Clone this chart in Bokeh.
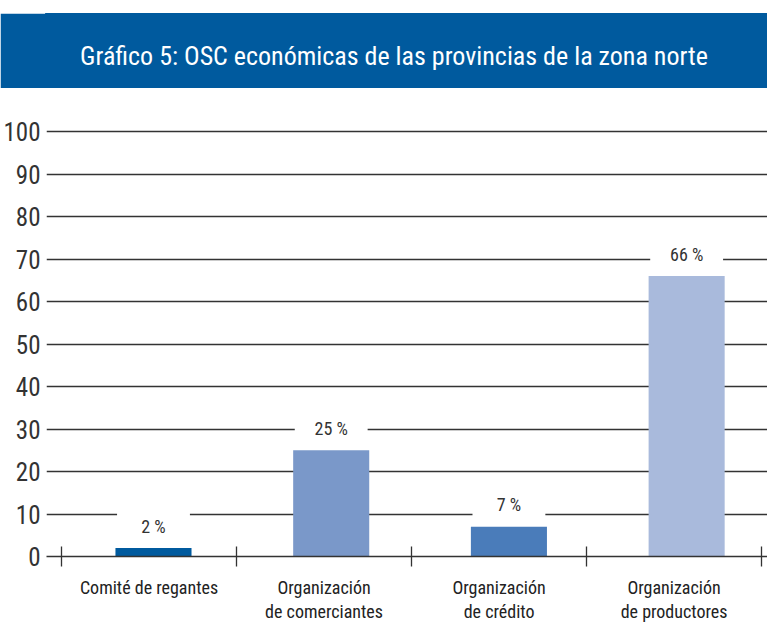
from bokeh.plotting import figure
from bokeh.models import Range1d, FixedTicker, Label, Spacer
from bokeh.layouts import column
from bokeh.embed import file_html
from bokeh.resources import INLINE
from bokeh.core.properties import value

# ---- data ----
title_text = "Gráfico 5: OSC económicas de las provincias de la zona norte"
categories = [
    "Comité de regantes",
    "Organización\nde comerciantes",
    "Organización\nde crédito",
    "Organización\nde productores",
]
percentages = [2, 25, 7, 66]
value_labels = ["2 %", "25 %", "7 %", "66 %"]
y_ticks = [0, 10, 20, 30, 40, 50, 60, 70, 80, 90, 100]
bar_colors = ["#005A9E", "#7A98C9", "#4A7CBA", "#A9BADC"]

# ---- style ----
FONT = "Roboto Condensed"
BANNER = "#005A9E"
INK = "#333333"
W = 767

# ---- banner ----
top = figure(width=W, height=75, x_range=(0, 1), y_range=(0, 1),
             toolbar_location=None, output_backend="svg",
             x_axis_location=None, y_axis_location=None,
             min_border_top=0, min_border_bottom=0,
             min_border_left=0, min_border_right=0)
top.grid.visible = False
top.background_fill_color = BANNER
top.border_fill_color = BANNER
top.outline_line_color = BANNER
top.outline_line_width = 3
top.add_layout(Label(x=0.482, y=0.44, text=title_text, text_align="center",
                     text_baseline="middle", text_color="white",
                     text_font=FONT, text_font_size="26px"))

# ---- main chart ----
H = 536
MB_TOP, MB_BOTTOM = 18, 68
frame_h = H - MB_TOP - MB_BOTTOM
px_per_unit = 4.25
y_end = frame_h / px_per_unit
n = len(categories)

p = figure(width=W, height=H,
           x_range=Range1d(-0.086, 4.034), y_range=Range1d(0, y_end),
           toolbar_location=None, output_backend="svg",
           min_border_top=MB_TOP, min_border_bottom=MB_BOTTOM,
           min_border_left=46, min_border_right=0)
p.extra_x_ranges = {"bars": Range1d(-0.102, 3.955)}
p.outline_line_color = None
p.background_fill_color = "white"
p.border_fill_color = "white"

centers = [i + 0.5 for i in range(n)]
p.vbar(x=centers, top=percentages, bottom=0, width=0.428,
       fill_color=bar_colors, line_color=None, x_range_name="bars")

label_y = [v + 22 / px_per_unit for v in percentages]
p.rect(x=centers, y=label_y, width=0.41, height=30, height_units="screen",
       fill_color="white", line_color=None, x_range_name="bars")
p.text(x=centers, y=label_y, text=value_labels, text_align="center",
       text_baseline="middle", text_font=value(FONT), text_font_size="18px",
       text_color=INK, x_range_name="bars")

# y axis / grid
p.yaxis.ticker = FixedTicker(ticks=y_ticks)
p.yaxis.axis_line_color = None
p.yaxis.major_tick_line_color = None
p.yaxis.major_tick_in = 0
p.yaxis.major_tick_out = 0
p.yaxis.minor_tick_line_color = None
p.yaxis.minor_tick_out = 0
p.yaxis.major_label_text_font = FONT
p.yaxis.major_label_text_font_size = "25px"
p.yaxis.major_label_text_color = INK
p.yaxis.major_label_standoff = 6
p.ygrid.ticker = FixedTicker(ticks=y_ticks)
p.ygrid.grid_line_color = INK
p.ygrid.grid_line_width = 1.3
p.xgrid.visible = False

# x axis: labels at category centres, minor ticks at category boundaries
p.xaxis.ticker = FixedTicker(ticks=centers, minor_ticks=list(range(n + 1)))
p.xaxis.major_label_overrides = {c: cat for c, cat in zip(centers, categories)}
p.xaxis.major_tick_line_color = None
p.xaxis.major_tick_in = 0
p.xaxis.major_tick_out = 0
p.xaxis.minor_tick_in = 10
p.xaxis.minor_tick_out = 10
p.xaxis.minor_tick_line_color = INK
p.xaxis.minor_tick_line_width = 1.3
p.xaxis.axis_line_color = INK
p.xaxis.axis_line_width = 1.5
p.xaxis.major_label_standoff = 10
p.xaxis.major_label_text_font = FONT
p.xaxis.major_label_text_font_size = "18px"
p.xaxis.major_label_text_color = "#222222"
p.xaxis.major_label_text_line_height = 1.15

layout = column(Spacer(width=W, height=13), top, p, spacing=0)
open("out.html", "w").write(file_html(layout, INLINE))
